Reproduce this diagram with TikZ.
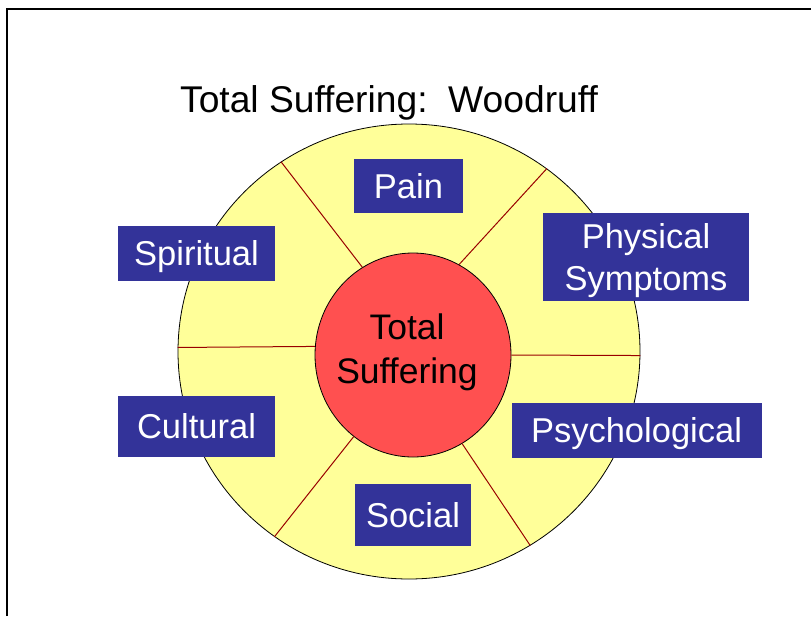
\documentclass[tikz,border=0pt]{standalone}
\usepackage{fontspec}
\setmainfont{Liberation Sans}
\usetikzlibrary{shapes.geometric}
\definecolor{wheelyellow}{HTML}{FFFF99}
\definecolor{corered}{HTML}{FF5050}
\definecolor{boxblue}{HTML}{333399}
\definecolor{spokered}{HTML}{990000}
\begin{document}
\begin{tikzpicture}[x=1pt,y=-1pt,
  lblbase/.style={fill=boxblue,text=white,inner sep=0pt,font=\fontsize{34.5}{42}\selectfont},
  lbl/.style={lblbase,text height=24.7pt,text depth=0pt},
  ring/.style={ellipse,draw=black,line width=0.8pt,inner sep=0pt},
  spokeline/.style={draw=spokered,line width=1pt}]
\useasboundingbox (0,0) rectangle (811,616);
\fill[white] (0,0) rectangle (811,616);
\draw[line width=2pt] (7,616) -- (7,9) -- (811,9);
\node[font=\fontsize{37.2}{44}\selectfont,anchor=base,inner sep=0pt] (title) at (389,112) {Total Suffering:\ \ Woodruff};
\node[ring,fill=wheelyellow,minimum width=462pt,minimum height=455pt] (wheel) at (409,351.5) {};
\node[ring,fill=corered,minimum width=196pt,minimum height=204pt] (core) at (413,355) {};
\draw[spokeline] (core.120) -- (wheel.124.5);
\draw[spokeline] (core.63.4) -- (wheel.53.9);
\draw[spokeline] (core.175.9) -- (wheel.179.1);
\draw[spokeline] (core.east) -- (wheel.359.1);
\draw[spokeline] (core.234.9) -- (wheel.234.1);
\draw[spokeline] (core.299.8) -- (wheel.302.2);
\node[font=\fontsize{35.5}{44}\selectfont,align=center,inner sep=0pt] (coretext) at (407,352.5) {Total\\Suffering};
\node[lbl,minimum width=109pt,minimum height=54pt] (pain) at (408.5,186) {Pain};
\node[lbl,minimum width=157pt,minimum height=55pt] (spiritual) at (196.5,253.5) {Spiritual};
\node[lblbase,align=center,text depth=0pt,minimum width=206pt,minimum height=88pt] (physical) at (646,257) {Physical\\Symptoms};
\node[lbl,minimum width=157pt,minimum height=61pt] (cultural) at (196.5,426.5) {Cultural};
\node[lbl,minimum width=116pt,minimum height=62pt] (social) at (413,515) {Social};
\node[lbl,minimum width=250pt,minimum height=55pt] (psych) at (636.5,430.5) {Psychological};
\end{tikzpicture}
\end{document}
